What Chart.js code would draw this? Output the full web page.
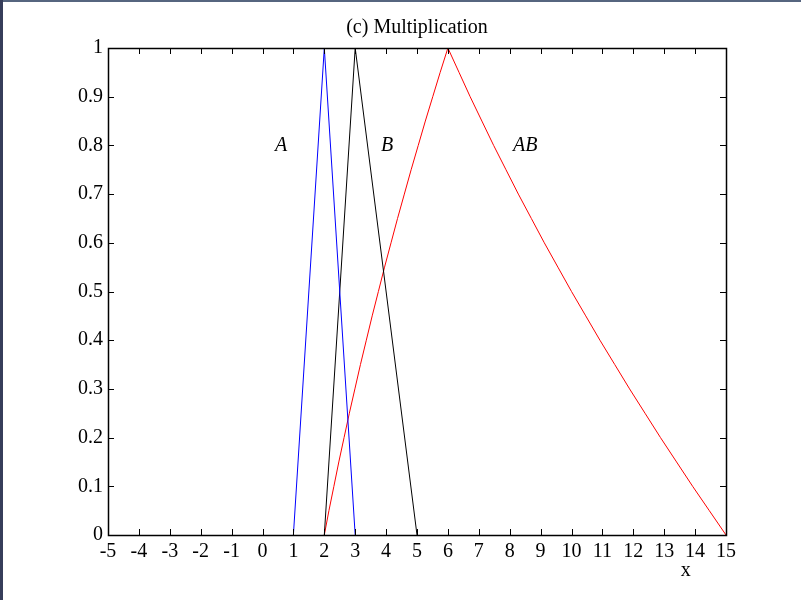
<!DOCTYPE html>
<html>
<head>
<meta charset="utf-8">
<title>Multiplication</title>
<script src="https://cdn.jsdelivr.net/npm/chart.js@4/dist/chart.umd.min.js"></script>
<style>
  body { margin: 0; background: #fff; }
  #wrap { width: 801px; height: 600px; position: relative; }
</style>
</head>
<body>
<div id="wrap"><canvas id="myChart" width="801" height="600"></canvas></div>
<script>
// fuzzy number A
const aX = [1, 2, 3];
const aMu = [0, 1, 0];
// fuzzy number B
const bX = [2, 3, 5];
const bMu = [0, 1, 0];
// product AB, left side up to the peak then right side down
const abX = [2, 2.15, 2.31, 2.47, 2.64, 2.81, 2.99, 3.17, 3.36, 3.55, 3.75,
  3.95, 4.16, 4.37, 4.59, 4.81, 5.04, 5.27, 5.51, 5.75, 6,
  6.36, 6.72, 7.1, 7.48, 7.88, 8.28, 8.7, 9.12, 9.56, 10,
  10.46, 10.92, 11.4, 11.88, 12.38, 12.88, 13.4, 13.92, 14.46, 15];
const abMu = [0, 0.05, 0.1, 0.15, 0.2, 0.25, 0.3, 0.35, 0.4, 0.45, 0.5,
  0.55, 0.6, 0.65, 0.7, 0.75, 0.8, 0.85, 0.9, 0.95, 1,
  0.95, 0.9, 0.85, 0.8, 0.75, 0.7, 0.65, 0.6, 0.55, 0.5,
  0.45, 0.4, 0.35, 0.3, 0.25, 0.2, 0.15, 0.1, 0.05, 0];

// labels written on the plot
const curveNames = ["A", "B", "AB"];
const nameX = [0.6, 4.03, 8.5];
const nameY = [0.8, 0.8, 0.8];

const xMin = -5, xMax = 15;
const yMin = 0, yMax = 1;

const serif = "'Liberation Serif', 'Times New Roman', serif";
const fontSize = 20;

function pts(xs, ys) {
  return xs.map((x, i) => ({ x: x, y: ys[i] }));
}

// title, box, inward ticks, curve names, x label and window frame
const decor = {
  id: "decor",
  afterDraw(chart) {
    const ctx = chart.ctx;
    const a = chart.chartArea;
    const xs = chart.scales.x;
    const ys = chart.scales.y;
    ctx.save();
    ctx.strokeStyle = "#000";
    ctx.lineWidth = 1;
    ctx.beginPath();
    xs.ticks.forEach((t) => {
      const px = Math.round(xs.getPixelForValue(t.value)) + 0.5;
      ctx.moveTo(px, a.bottom);
      ctx.lineTo(px, a.bottom - 6);
      ctx.moveTo(px, a.top);
      ctx.lineTo(px, a.top + 6);
    });
    ys.ticks.forEach((t) => {
      const py = Math.round(ys.getPixelForValue(t.value)) + 0.5;
      ctx.moveTo(a.left, py);
      ctx.lineTo(a.left + 6, py);
      ctx.moveTo(a.right, py);
      ctx.lineTo(a.right - 6, py);
    });
    ctx.stroke();
    ctx.lineWidth = 1.5;
    ctx.strokeRect(Math.round(a.left) + 0.5, Math.round(a.top) + 0.5,
      Math.round(a.right - a.left), Math.round(a.bottom - a.top));

    ctx.fillStyle = "#000";
    ctx.textAlign = "center";
    ctx.textBaseline = "middle";
    ctx.font = fontSize + "px " + serif;
    ctx.fillText("(c) Multiplication", (a.left + a.right) / 2, a.top - 20);
    ctx.fillText("x", xs.getPixelForValue(13.7), a.bottom + 36);

    ctx.font = "italic " + fontSize + "px " + serif;
    curveNames.forEach((n, i) => {
      ctx.fillText(n, xs.getPixelForValue(nameX[i]), ys.getPixelForValue(nameY[i]));
    });

    ctx.fillStyle = "#56657f";
    ctx.fillRect(0, 0, chart.width, 2);
    ctx.fillStyle = "#363d5a";
    ctx.fillRect(0, 0, 3, chart.height);
    ctx.restore();
  },
};

const ctx = document.getElementById("myChart").getContext("2d");
const myChart = new Chart(ctx, {
  type: "scatter",
  data: {
    datasets: [
      { label: "A", data: pts(aX, aMu), borderColor: "#0000ff" },
      { label: "B", data: pts(bX, bMu), borderColor: "#000000" },
      { label: "AB", data: pts(abX, abMu), borderColor: "#ff0000" },
    ],
  },
  options: {
    responsive: false,
    animation: false,
    layout: { padding: { left: 0, right: 75, top: 48, bottom: 0 } },
    datasets: {
      scatter: { showLine: true, pointRadius: 0, borderWidth: 1, tension: 0, fill: false },
    },
    plugins: {
      legend: { display: false },
      tooltip: { enabled: false },
      title: { display: false },
    },
    scales: {
      x: {
        type: "linear",
        min: xMin,
        max: xMax,
        grid: { display: false, drawTicks: false },
        border: { display: false },
        ticks: {
          stepSize: 1,
          autoSkip: false,
          maxRotation: 0,
          padding: 5,
          color: "#000",
          font: { family: serif, size: fontSize },
        },
        afterFit: (s) => { s.height = 65; },
      },
      y: {
        type: "linear",
        min: yMin,
        max: yMax,
        grid: { display: false, drawTicks: false },
        border: { display: false },
        ticks: {
          stepSize: 0.1,
          padding: 5,
          color: "#000",
          font: { family: serif, size: fontSize },
          callback: (v) => String(Number(v.toFixed(1))),
        },
        afterFit: (s) => { s.width = 108; },
      },
    },
  },
  plugins: [decor],
});
</script>
</body>
</html>
